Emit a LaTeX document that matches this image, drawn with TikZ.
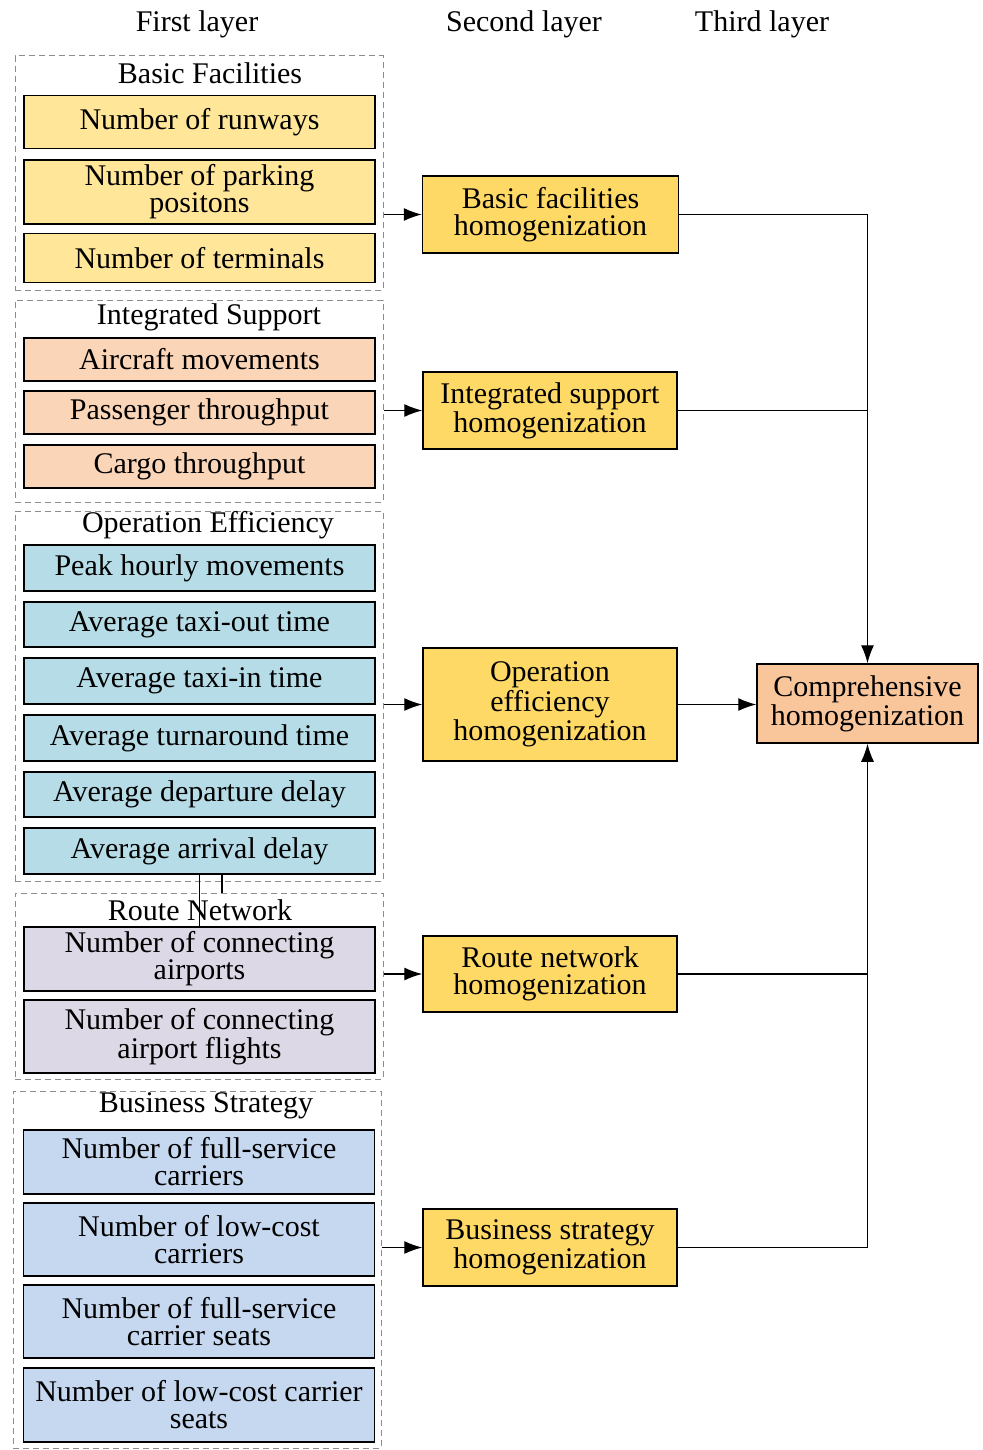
\documentclass[tikz,border=0pt]{standalone}
\usepackage{fontspec}
\setmainfont{Liberation Serif}
\usepackage{xcolor}
\usetikzlibrary{arrows.meta, positioning}
\definecolor{BasicYellow}{HTML}{FFE699}
\definecolor{SupportPeach}{HTML}{FBD5B7}
\definecolor{OperBlue}{HTML}{B6DDE7}
\definecolor{RouteLilac}{HTML}{DDD8E5}
\definecolor{BusinessBlue}{HTML}{C6D8EF}
\definecolor{SecondGold}{HTML}{FFD966}
\definecolor{ThirdOrange}{HTML}{F9C59B}
\definecolor{GroupGray}{HTML}{8C8C8C}

\begin{document}
\begin{tikzpicture}[x=0.5pt, y=-0.5pt, every node/.style={font=\fontsize{15}{13.5}\selectfont}, >={Latex[length=9pt,width=6.5pt]}]
  \tikzset{
    group/.style={rectangle, draw=GroupGray, dash pattern=on 3pt off 2pt, line width=0.5pt, minimum width=184pt, inner sep=0pt},
    item/.style={rectangle, draw=black, line width=0.75pt, minimum width=175.5pt, inner sep=0pt, align=center},
    second/.style={rectangle, draw=black, line width=0.75pt, fill=SecondGold, minimum width=127pt, inner sep=0pt, align=center},
    third/.style={rectangle, draw=black, line width=0.75pt, fill=ThirdOrange, minimum width=110.5pt, inner sep=0pt, align=center},
    arrow/.style={->, line width=0.6pt, draw=black}
  }
  \useasboundingbox (0,0) rectangle (982,1450);

  % Layer headings
  \node (hFirst) at (197,24) {First layer};
  \node (hSecond) at (524,24) {Second layer};
  \node (hThird) at (762,24) {Third layer};

  % First layer groups
  \node[group, minimum height=117pt] (gBasic) at (199,173) {};
  \node (tBasic) at (210,73) {Basic Facilities};
  \node[item, fill=BasicYellow, minimum height=26.5pt] (runways) at (199.5,122) {Number of runways};
  \node[item, fill=BasicYellow, minimum height=32pt] (parking) at (199.5,192) {Number of parking\\positons};
  \node[item, fill=BasicYellow, minimum height=24.5pt] (terminals) at (199.5,258) {Number of terminals};

  \node[group, minimum height=101pt] (gSupport) at (199,401) {};
  \node (tSupport) at (209,317) {Integrated Support};
  \node[item, fill=SupportPeach, minimum height=21.5pt] (aircraft) at (199.5,359.5) {Aircraft movements};
  \node[item, fill=SupportPeach, minimum height=21.5pt] (passenger) at (199.5,412.5) {Passenger throughput};
  \node[item, fill=SupportPeach, minimum height=21.5pt] (cargo) at (199.5,466.5) {Cargo throughput};

  \node[group, minimum height=185pt] (gOper) at (199,696) {};
  \node (tOper) at (208,525) {Operation Efficiency};
  \node[item, fill=OperBlue, minimum height=23pt] (peak) at (199.5,568) {Peak hourly movements};
  \node[item, fill=OperBlue, minimum height=22.5pt] (taxiout) at (199.5,624.5) {Average taxi-out time};
  \node[item, fill=OperBlue, minimum height=23pt] (taxiin) at (199.5,681) {Average taxi-in time};
  \node[item, fill=OperBlue, minimum height=23pt] (turnaround) at (199.5,738) {Average turnaround time};
  \node[item, fill=OperBlue, minimum height=22.5pt] (departure) at (199.5,794.5) {Average departure delay};
  \node[item, fill=OperBlue, minimum height=23pt] (arrival) at (199.5,851) {Average arrival delay};

  \node[group, minimum height=93pt] (gRoute) at (199,986) {};
  \node (tRoute) at (200,910) {Route Network};
  \node[item, fill=RouteLilac, minimum height=32pt] (connports) at (199.5,959) {Number of connecting\\airports};
  \node[item, fill=RouteLilac, minimum height=36.5pt] (connflights) at (199.5,1036.5) {Number of connecting\\airport flights};

  \node[group, minimum height=178.5pt] (gBusiness) at (197,1269.5) {};
  \node (tBusiness) at (206,1106) {Business Strategy};
  \node[item, fill=BusinessBlue, minimum height=32pt] (fscarriers) at (199,1162) {Number of full-service\\carriers};
  \node[item, fill=BusinessBlue, minimum height=36.5pt] (lccarriers) at (199,1239.5) {Number of low-cost\\carriers};
  \node[item, fill=BusinessBlue, minimum height=36.5pt] (fsseats) at (199,1321.5) {Number of full-service\\carrier seats};
  \node[item, fill=BusinessBlue, minimum height=37pt] (lcseats) at (199,1405) {Number of low-cost carrier\\seats};

  % Second layer
  \node[second, minimum width=128pt, minimum height=38.5pt] (sBasic) at (550.5,214.5) {Basic facilities\\homogenization};
  \node[second, minimum height=38.5pt] (sSupport) at (550,410.5) {Integrated support\\homogenization};
  \node[second, minimum height=56.5pt] (sOper) at (550,704.5) {Operation\\efficiency\\homogenization};
  \node[second, minimum height=38pt] (sRoute) at (550,974) {Route network\\homogenization};
  \node[second, minimum height=38.5pt] (sBusiness) at (550,1247.5) {Business strategy\\homogenization};

  % Third layer
  \node[third, minimum height=39.5pt] (comp) at (867.5,703.5) {Comprehensive\\homogenization};

  % First to second layer
  \draw[arrow] (gBasic.east |- sBasic.west) -- (sBasic.west);
  \draw[arrow] (gSupport.east |- sSupport.west) -- (sSupport.west);
  \draw[arrow] (gOper.east |- sOper.west) -- (sOper.west);
  \draw[arrow] (gRoute.east |- sRoute.west) -- (sRoute.west);
  \draw[arrow] (gBusiness.east |- sBusiness.west) -- (sBusiness.west);

  % Second to third layer
  \draw[arrow] (sBasic.east) -| (comp.north);
  \draw[line width=0.6pt] (sSupport.east) -- (sSupport.east -| comp.north);
  \draw[arrow] (sOper.east) -- (sOper.east -| comp.west);
  \draw[line width=0.6pt] (sRoute.east) -- (sRoute.east -| comp.south);
  \draw[arrow] (sBusiness.east) -| (comp.south);

  % Stray rules between the groups
  \draw[line width=0.6pt] (arrival.south) -- (connports.north);
  \draw[line width=0.6pt] ([xshift=11.25pt]arrival.south) -- ([xshift=11.25pt]arrival.south |- gRoute.north);
\end{tikzpicture}
\end{document}
